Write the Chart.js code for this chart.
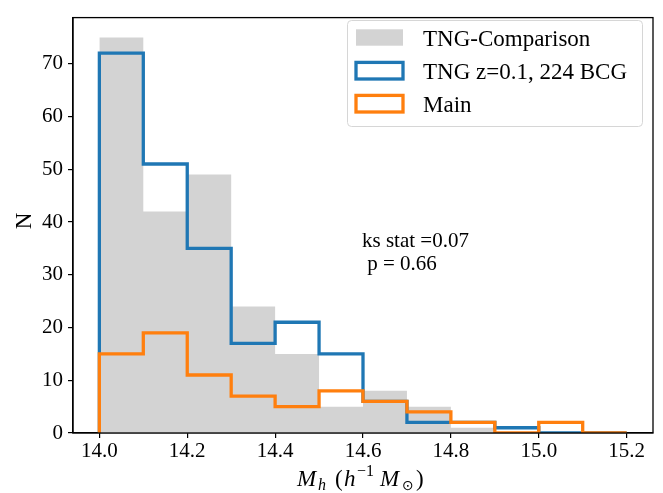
<!DOCTYPE html>
<html>
<head>
<meta charset="utf-8">
<script src="https://cdn.jsdelivr.net/npm/chart.js@4.4.1/dist/chart.umd.min.js"></script>
<style>
html,body{margin:0;padding:0;background:#fff;}
canvas{display:block;}
</style>
</head>
<body>
<canvas id="c" width="663" height="493"></canvas>
<script>
// ---- data ----
const binEdges = [14.0, 14.1, 14.2, 14.3, 14.4, 14.5, 14.6, 14.7, 14.8, 14.9, 15.0, 15.1, 15.2];
const tngComparison = [75, 42, 49, 24, 15, 5, 8, 5, 1, 0, 0, 0];
const tngBCG = [72, 51, 35, 17, 21, 15, 6, 2, 2, 1, 0, 0];
const mainSample = [15, 19, 11, 7, 5, 8, 6, 4, 2, 0, 2, 0];
const seriesLabels = ['TNG-Comparison', 'TNG z=0.1, 224 BCG', 'Main'];
const xTickValues = [14.0, 14.2, 14.4, 14.6, 14.8, 15.0, 15.2];
const yTickValues = [0, 10, 20, 30, 40, 50, 60, 70];
const statLines = ['ks stat =0.07', ' p = 0.66'];

const SERIF = '"Liberation Serif", "DejaVu Serif", serif';
const GRAY = '#d3d3d3', BLUE = '#1f77b4', ORANGE = '#ff7f0e';

function stepPoints(vals) {
  const pts = [{x: binEdges[0], y: 0}];
  vals.forEach((v, i) => pts.push({x: binEdges[i], y: v}));
  pts.push({x: binEdges[binEdges.length - 1], y: 0});
  return pts;
}

const frameAndText = {
  id: 'frameAndText',
  afterDatasetsDraw(chart) {
    const ctx = chart.ctx, a = chart.chartArea;
    ctx.save();
    ctx.strokeStyle = '#000';
    ctx.lineWidth = 1.3;
    ctx.strokeRect(a.left, a.top, a.right - a.left, a.bottom - a.top);

    // stats text
    ctx.fillStyle = '#000';
    ctx.font = '21px ' + SERIF;
    ctx.textBaseline = 'alphabetic';
    ctx.textAlign = 'left';
    ctx.fillText(statLines[0], 362, 247);
    ctx.fillText(statLines[1], 362, 270);

    // legend
    const lx = 347.5, ly = 20.5, lw = 295, lh = 106, r = 4;
    ctx.beginPath();
    ctx.moveTo(lx + r, ly);
    ctx.arcTo(lx + lw, ly, lx + lw, ly + lh, r);
    ctx.arcTo(lx + lw, ly + lh, lx, ly + lh, r);
    ctx.arcTo(lx, ly + lh, lx, ly, r);
    ctx.arcTo(lx, ly, lx + lw, ly, r);
    ctx.closePath();
    ctx.fillStyle = 'rgba(255,255,255,0.8)';
    ctx.fill();
    ctx.strokeStyle = '#d6d6d6';
    ctx.lineWidth = 1;
    ctx.stroke();

    const ds = chart.data.datasets;
    const rows = [37.5, 70.7, 103.7];
    const baselines = [46, 79.3, 111.7];
    ds.forEach((d, i) => {
      const cy = rows[i];
      if (d.fill) {
        ctx.fillStyle = d.backgroundColor;
        ctx.fillRect(356, 29.3, 47, 16.4);
      } else {
        ctx.strokeStyle = d.borderColor;
        ctx.lineWidth = 3.3;
        ctx.strokeRect(356, cy - 8.3, 47, 16.6);
      }
      ctx.fillStyle = '#000';
      ctx.font = '23px ' + SERIF;
      ctx.textBaseline = 'alphabetic';
      ctx.fillText(d.label, 423, baselines[i]);
    });

    // x axis label: M_h (h^{-1} M_sun)
    const by = 486;
    ctx.fillStyle = '#000';
    ctx.font = 'italic 23px ' + SERIF;
    ctx.fillText('M', 297, by);
    ctx.font = 'italic 16px ' + SERIF;
    ctx.fillText('h', 318, by + 4);
    ctx.font = '23px ' + SERIF;
    ctx.fillText('(', 335, by);
    ctx.font = 'italic 23px ' + SERIF;
    ctx.fillText('h', 344, by);
    ctx.font = '16px ' + SERIF;
    ctx.fillText('\u22121', 357, by - 10);
    ctx.font = 'italic 23px ' + SERIF;
    ctx.fillText('M', 380, by);
    ctx.font = '14px "DejaVu Sans", sans-serif';
    ctx.fillText('\u2299', 402, by + 4);
    ctx.font = '23px ' + SERIF;
    ctx.fillText(')', 416, by);

    // y axis label
    ctx.save();
    ctx.translate(31, 221);
    ctx.rotate(-Math.PI / 2);
    ctx.font = '23px ' + SERIF;
    ctx.textAlign = 'center';
    ctx.fillText('N', 0, 0);
    ctx.restore();
    ctx.restore();
  }
};

const tickFont = {family: SERIF, size: 21};

new Chart(document.getElementById('c'), {
  type: 'line',
  data: {
    datasets: [
      {label: seriesLabels[0], data: stepPoints(tngComparison), stepped: 'before', fill: 'origin',
       backgroundColor: GRAY, borderColor: GRAY, borderWidth: 0, pointRadius: 0, order: 3},
      {label: seriesLabels[1], data: stepPoints(tngBCG), stepped: 'before', fill: false,
       borderColor: BLUE, borderWidth: 3.3, pointRadius: 0, order: 2,
       borderJoinStyle: 'miter', borderCapStyle: 'butt'},
      {label: seriesLabels[2], data: stepPoints(mainSample), stepped: 'before', fill: false,
       borderColor: ORANGE, borderWidth: 3.3, pointRadius: 0, order: 1,
       borderJoinStyle: 'miter', borderCapStyle: 'butt'}
    ]
  },
  options: {
    responsive: false,
    animation: false,
    devicePixelRatio: 1,
    parsing: false,
    layout: {padding: {left: 0, right: 10, top: 8, bottom: 0}},
    plugins: {legend: {display: false}, tooltip: {enabled: false}},
    scales: {
      x: {
        type: 'linear', min: 13.94, max: 15.26,
        afterBuildTicks: s => { s.ticks = xTickValues.map(v => ({value: v})); },
        afterFit: s => { s.height = 60; },
        ticks: {callback: v => Number(v).toFixed(1), font: tickFont, color: '#000', padding: 1, maxRotation: 0, autoSkip: false},
        grid: {drawOnChartArea: false, drawTicks: true, tickLength: 5, color: '#000', lineWidth: 1.2},
        border: {display: true, color: '#000', width: 1.3}
      },
      y: {
        type: 'linear', min: 0, max: 78.75,
        afterBuildTicks: s => { s.ticks = yTickValues.map(v => ({value: v})); },
        afterFit: s => { s.width = 73; },
        ticks: {callback: v => String(v), font: tickFont, color: '#000', padding: 5, autoSkip: false},
        grid: {drawOnChartArea: false, drawTicks: true, tickLength: 5, color: '#000', lineWidth: 1.2},
        border: {display: true, color: '#000', width: 1.3}
      }
    }
  },
  plugins: [frameAndText]
});
</script>
</body>
</html>
